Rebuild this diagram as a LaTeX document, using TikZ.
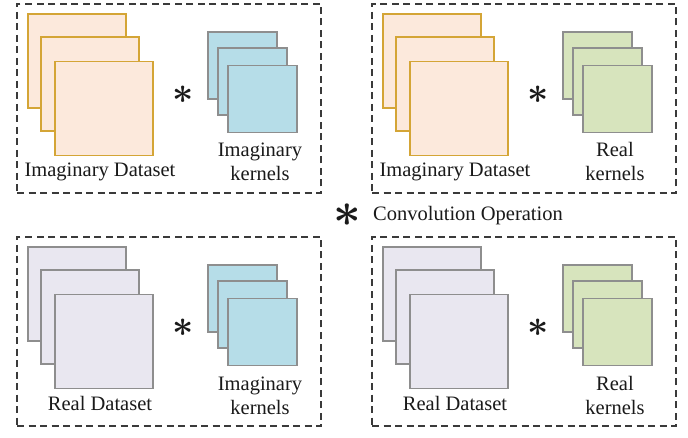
\documentclass[tikz,border=0pt]{standalone}
\usepackage{fontspec}
\setmainfont{Liberation Serif}
\definecolor{dsorange}{HTML}{FCE9DC}
\definecolor{dsgold}{HTML}{D4A536}
\definecolor{kblue}{HTML}{B6DDE8}
\definecolor{kgreen}{HTML}{D7E4BD}
\definecolor{dslav}{HTML}{E9E7F0}
\definecolor{edgegray}{HTML}{8E8E8E}
\definecolor{dashgray}{HTML}{3A3A3A}
\definecolor{txt}{HTML}{1A1A1A}
\tikzset{
  panelbox/.style={draw=dashgray, line width=1.2pt, dash pattern=on 7pt off 4.5pt,
    minimum width=304, minimum height=189, inner sep=0pt},
  imgds/.style={draw=dsgold, fill=dsorange, line width=1.5pt, inner sep=0pt,
    minimum width=98, minimum height=94},
  realds/.style={draw=edgegray, fill=dslav, line width=1.5pt, inner sep=0pt,
    minimum width=98, minimum height=94},
  imgk/.style={draw=edgegray, fill=kblue, line width=1.5pt, inner sep=0pt,
    minimum width=69, minimum height=67},
  realk/.style={draw=edgegray, fill=kgreen, line width=1.5pt, inner sep=0pt,
    minimum width=69, minimum height=67},
  lbl/.style={font=\fontsize{20.5}{24}\selectfont, text=txt, inner sep=0pt, anchor=base},
  conv/.style={text=txt, inner sep=0pt, scale=3.7, font=\boldmath},
}
\newcommand\mypanel[7]{%
  \begin{scope}[shift={(#2,#3)}]
    \node[panelbox] (#1box) at (169,98.5) {};
    \node[#4] (#1d1) at (77,61) {};
    \node[#4] (#1d2) at (90,84) {};
    \node[#4] (#1d3) at (104,108.5) {};
    \node[#5] (#1k1) at (242.5,65.5) {};
    \node[#5] (#1k2) at (252.5,81.5) {};
    \node[#5] (#1k3) at (262.5,99) {};
    \node[conv] (#1ast) at (183.5,95) {$\ast$};
    \node[lbl] (#1dl) at (100,177) {#6};
    \node[lbl] (#1kl) at (260,157) {#7};
    \node[lbl] (#1kl2) at (260,181) {kernels};
  \end{scope}}
\begin{document}
\begin{tikzpicture}[x=1pt,y=-1pt]
  \useasboundingbox (0,0) rectangle (688,438);
  \fill[white] (0,0) rectangle (688,438);
  \mypanel{tl}{0}{0}{imgds}{imgk}{Imaginary Dataset}{Imaginary}
  \mypanel{tr}{355}{0}{imgds}{realk}{Imaginary Dataset}{Real}
  \mypanel{bl}{0}{233}{realds}{imgk}{Real Dataset}{Imaginary}
  \mypanel{br}{355}{233}{realds}{realk}{Real Dataset}{Real}
  \node[conv, scale=1.3] (legast) at (347,215) {$\ast$};
  \node[lbl, anchor=base west] (legtxt) at (373,221) {Convolution Operation};
\end{tikzpicture}
\end{document}
